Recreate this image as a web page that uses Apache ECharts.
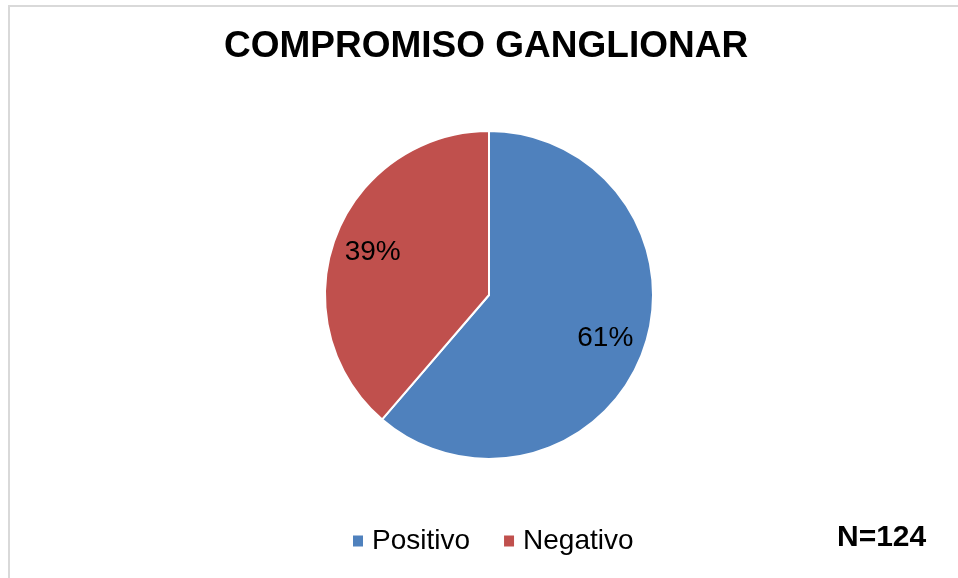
<!DOCTYPE html>
<html>
<head>
<meta charset="utf-8">
<script src="https://cdn.jsdelivr.net/npm/echarts@6/dist/echarts.min.js"></script>
<style>html,body{margin:0;padding:0;background:#fff;}#c{width:958px;height:578px;}</style>
</head>
<body>
<div id="c"></div>
<script>
const titleText = 'COMPROMISO GANGLIONAR';
const categories = ['Positivo', 'Negativo'];
const values = [76, 48];
const colors = ['#4F81BD', '#C0504D'];
const noteText = 'N=124';

const chart = echarts.init(document.getElementById('c'), null, {renderer: 'canvas'});
const font = '"Liberation Sans", Arial, sans-serif';
const data = categories.map((n, i) => ({name: n, value: values[i], itemStyle: {color: colors[i]}}));
const labelData = categories.map((n, i) => ({name: n, value: values[i]}));
const legendData = categories.map((n, i) => ({name: n, itemStyle: {color: colors[i], borderWidth: 0, borderColor: 'transparent'}}));

chart.setOption({
  animation: false,
  backgroundColor: '#fff',
  title: [
    {text: titleText, left: 224, top: 26, padding: 0,
     textStyle: {fontFamily: font, fontSize: 37, fontWeight: 'bold', color: '#000', lineHeight: 42}},
    {text: noteText, left: 837, top: 523, padding: 0,
     textStyle: {fontFamily: font, fontSize: 30, fontWeight: 'bold', color: '#000', lineHeight: 30}}
  ],
  legend: {
    data: legendData,
    left: 353, top: 527, padding: 0,
    icon: 'rect', itemWidth: 10, itemHeight: 11, itemGap: 34,
    itemStyle: {borderWidth: 0},
    textStyle: {fontFamily: font, fontSize: 28, color: '#000', lineHeight: 28, padding: [0, 0, 0, 4]}
  },
  graphic: [{
    type: 'rect', silent: true, z: -10,
    shape: {x: 9, y: 6, width: 1000, height: 1000},
    style: {fill: 'none', stroke: '#D9D9D9', lineWidth: 2}
  }],
  series: [
    {
      type: 'pie', center: [489, 295], radius: [0, 164],
      startAngle: 90, clockwise: true, percentPrecision: 0,
      data: data,
      itemStyle: {borderColor: '#fff', borderWidth: 2},
      label: {show: false}, labelLine: {show: false},
      emphasis: {disabled: true}
    },
    {
      type: 'pie', center: [489, 295], radius: [78, 164],
      startAngle: 90, clockwise: true, percentPrecision: 0, silent: true,
      data: labelData,
      itemStyle: {color: 'rgba(0,0,0,0)', borderWidth: 0},
      label: {show: true, position: 'inside', formatter: '{d}%',
              fontFamily: font, fontSize: 28, color: '#000'},
      labelLine: {show: false},
      emphasis: {disabled: true}
    }
  ]
});
</script>
</body>
</html>
